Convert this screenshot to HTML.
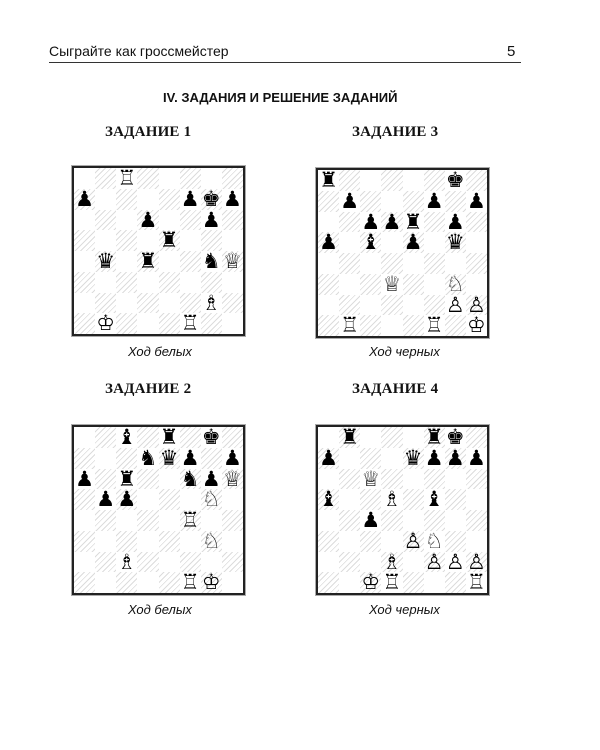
<!DOCTYPE html>
<html><head><meta charset="utf-8">
<style>
body{margin:0;background:#fff;}
#p{position:relative;width:600px;height:750px;background:#fff;overflow:hidden;font-family:"Liberation Sans","DejaVu Sans",sans-serif;color:#111;}
.t{position:absolute;white-space:nowrap;}
.h{font-family:"Liberation Serif",serif;font-weight:bold;font-size:15px;letter-spacing:0.2px;}
.cap{font-style:italic;font-size:13px;}
.board{position:absolute;width:169px;height:166px;border:2px solid #222;box-shadow:0 0 0 1px #aaa;background:#fff;}
.sq{position:absolute;width:21.125px;height:20.75px;text-align:center;font-family:"DejaVu Sans",sans-serif;font-size:21px;line-height:21px;color:#000;}
.d{background:repeating-linear-gradient(135deg,#fff 0 3px,#dcdcdc 3px 4px);}
</style></head><body><div id="p">
<div class="t" style="left:49px;top:43px;font-size:14px;">Сыграйте как гроссмейстер</div>
<div class="t" style="left:507px;top:43px;font-size:15px;">5</div>
<div style="position:absolute;left:49px;top:62px;width:472px;height:1px;background:#333;"></div>
<div class="t" style="left:163px;top:90px;font-size:13px;font-weight:bold;letter-spacing:0px;">IV. ЗАДАНИЯ И РЕШЕНИЕ ЗАДАНИЙ</div>
<div class="t h" style="left:105px;top:124px;">ЗАДАНИЕ 1</div>
<div class="t h" style="left:352px;top:124px;">ЗАДАНИЕ 3</div>
<div class="t h" style="left:105px;top:381px;">ЗАДАНИЕ 2</div>
<div class="t h" style="left:352px;top:381px;">ЗАДАНИЕ 4</div>
<div class="t cap" style="left:128px;top:344px;">Ход белых</div>
<div class="t cap" style="left:369px;top:344px;">Ход черных</div>
<div class="t cap" style="left:128px;top:602px;">Ход белых</div>
<div class="t cap" style="left:369px;top:602px;">Ход черных</div>
</div>
<script>
var G={K:'♔',Q:'♕',R:'♖',B:'♗',N:'♘',P:'♙',k:'♚',q:'♛',r:'♜',b:'♝',n:'♞',p:'♟'};
function board(x,y,pos){
 var b=document.createElement('div');b.className='board';b.style.left=x+'px';b.style.top=y+'px';
 for(var r=0;r<8;r++)for(var f=0;f<8;f++){
  var s=document.createElement('div');s.className='sq'+((r+f)%2?' d':'');
  s.style.left=(f*21.125)+'px';s.style.top=(r*20.75)+'px';b.appendChild(s);}
 pos.forEach(function(p){
  var f=p.charCodeAt(1)-97,r=8-parseInt(p[2]);
  var s=b.children[r*8+f];s.textContent=G[p[0]];});
 document.getElementById('p').appendChild(b);}
board(72,166,['Rc8','pa7','pf7','kg7','ph7','pd6','pg6','re5','qb4','rd4','ng4','Qh4','Bg2','Kb1','Rf1']);
board(316,168,['ra8','kg8','pb7','pf7','ph7','pc6','pd6','re6','pg6','pa5','bc5','pe5','qg5','Qd3','Ng3','Pg2','Ph2','Rb1','Rf1','Kh1']);
board(72,425,['bc8','re8','kg8','nd7','qe7','pf7','ph7','pa6','rc6','nf6','pg6','Qh6','pb5','pc5','Ng5','Rf4','Ng3','Bc2','Rf1','Kg1']);
board(316,425,['rb8','rf8','kg8','pa7','qe7','pf7','pg7','ph7','Qc6','ba5','Bd5','bf5','pc4','Pe3','Nf3','Bd2','Pf2','Pg2','Ph2','Kc1','Rd1','Rh1']);
</script>
</body></html>
